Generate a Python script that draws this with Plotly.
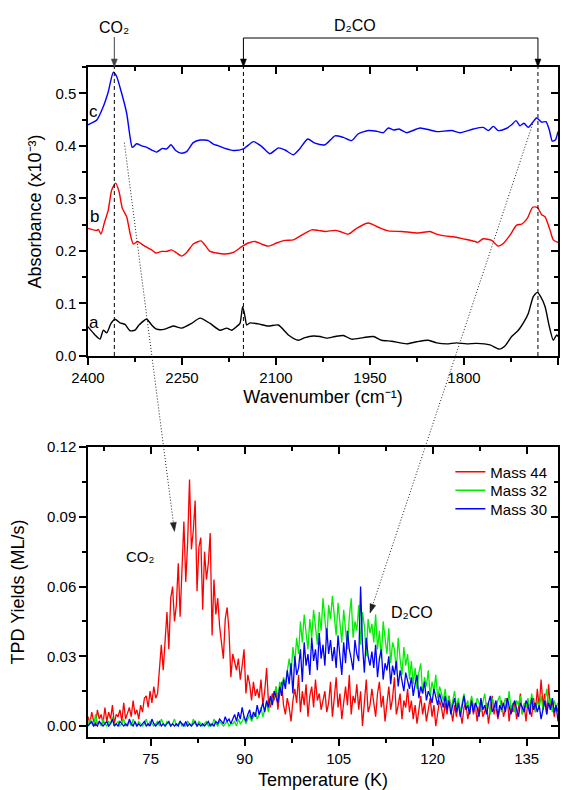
import plotly.graph_objects as go

# ---------------- IR spectra (top panel) ----------------
wn_c = [2400, 2386, 2375.5, 2367.6, 2359.6, 2354.3, 2346.3, 2338.3, 2333, 2329.3, 2322.4, 2314.4, 2306.4, 2298.4,
        2290.4, 2281.4, 2274.5, 2267.6, 2260.1, 2251.6, 2242.6, 2232, 2221.3, 2208, 2200, 2192, 2181.4, 2168, 2152,
        2136, 2123, 2110, 2096, 2085.6, 2072.4, 2061.7, 2049.5, 2037.8, 2021.8, 2005.9, 1992.6, 1979.3, 1968.6,
        1952.7, 1936.7, 1928.7, 1920.8, 1911.7, 1903.7, 1891.5, 1870.2, 1854.3, 1843.6, 1819.7, 1806.4, 1785.1,
        1769.2, 1761.2, 1753.2, 1745.3, 1734.6, 1724, 1717, 1710.7, 1704.3, 1697.4, 1684.1, 1676.1, 1669.2, 1663.8,
        1659.1, 1654.3, 1650]
abs_c = [0.440, 0.449, 0.475, 0.503, 0.540, 0.532, 0.500, 0.462, 0.418, 0.397, 0.404, 0.400, 0.397, 0.392,
         0.388, 0.395, 0.394, 0.402, 0.391, 0.386, 0.389, 0.406, 0.411, 0.410, 0.403, 0.400, 0.395, 0.391, 0.394,
         0.408, 0.399, 0.385, 0.396, 0.392, 0.383, 0.395, 0.413, 0.405, 0.402, 0.419, 0.416, 0.410, 0.423,
         0.429, 0.427, 0.425, 0.434, 0.430, 0.432, 0.425, 0.434, 0.430, 0.427, 0.429, 0.425, 0.432,
         0.435, 0.429, 0.437, 0.429, 0.432, 0.440, 0.448, 0.438, 0.443, 0.435, 0.453, 0.445, 0.446, 0.430,
         0.409, 0.411, 0.427]

wn_b = [2400, 2391.5, 2386, 2383.5, 2379.3, 2374, 2367.6, 2362.2, 2355.9, 2350.5, 2345.2, 2338.3, 2333, 2327.7,
        2320.8, 2314.4, 2306.4, 2298.4, 2292, 2282.5, 2274.5, 2266.5, 2258.5, 2250.5, 2242.6, 2232, 2219.7, 2213.3,
        2205.3, 2194.7, 2181.4, 2168, 2154.8, 2144.2, 2133.5, 2123, 2112.3, 2099, 2085.6, 2072.4, 2059.1, 2043,
        2032.5, 2021.8, 2005.9, 1997.9, 1984.6, 1971.3, 1952.7, 1936.7, 1920.8, 1899.5, 1872.9, 1854.3, 1843.6,
        1827.7, 1817.1, 1801.1, 1782.5, 1778.7, 1769.2, 1755.9, 1745.3, 1737.2, 1726.6, 1716, 1708, 1699, 1690.4,
        1683, 1676.1, 1670.7, 1662.8, 1657.5, 1650]
abs_b = [0.243, 0.240, 0.239, 0.241, 0.232, 0.253, 0.278, 0.316, 0.329, 0.313, 0.281, 0.265, 0.234, 0.213,
         0.218, 0.213, 0.207, 0.202, 0.196, 0.199, 0.199, 0.202, 0.196, 0.190, 0.197, 0.213, 0.219, 0.211,
         0.199, 0.196, 0.194, 0.197, 0.208, 0.215, 0.218, 0.213, 0.209, 0.215, 0.220, 0.221, 0.230, 0.240,
         0.239, 0.237, 0.239, 0.237, 0.232, 0.243, 0.253, 0.245, 0.238, 0.237, 0.234, 0.237, 0.232,
         0.228, 0.227, 0.223, 0.218, 0.216, 0.223, 0.220, 0.209, 0.214, 0.230, 0.249, 0.251, 0.262, 0.283,
         0.283, 0.269, 0.265, 0.240, 0.221, 0.216]

wn_a = [2400, 2396.8, 2388.8, 2380.9, 2375.5, 2370.2, 2363.3, 2357, 2349, 2341, 2333, 2325, 2318.6, 2306.4,
        2298.4, 2290.4, 2277.2, 2263.8, 2250.5, 2234.6, 2221.3, 2205.3, 2189.4, 2178.7, 2170.8, 2162.8, 2157.5,
        2153.2, 2149.5, 2146.8, 2141.5, 2128.2, 2112.3, 2096.3, 2080.3, 2064.4, 2053.7, 2040.4, 2029.8, 2019.2,
        2005.9, 1992.6, 1979.3, 1960.7, 1944.7, 1931.4, 1915.4, 1891.5, 1875.5, 1856.9, 1843.6, 1827.7, 1811.7,
        1795.8, 1779.8, 1758.5, 1743.6, 1734.6, 1724, 1713.3, 1704.3, 1697.4, 1689.4, 1683, 1677.7, 1670.7,
        1663.8, 1657.5, 1652.1, 1650]
abs_a = [0.056, 0.051, 0.040, 0.032, 0.049, 0.044, 0.062, 0.070, 0.063, 0.060, 0.048, 0.049, 0.059, 0.070,
         0.059, 0.051, 0.051, 0.057, 0.053, 0.062, 0.072, 0.062, 0.049, 0.053, 0.049, 0.056, 0.062,
         0.094, 0.075, 0.059, 0.063, 0.061, 0.057, 0.059, 0.040, 0.030, 0.035, 0.038, 0.037, 0.034,
         0.037, 0.039, 0.032, 0.035, 0.037, 0.030, 0.028, 0.023, 0.027, 0.030, 0.025, 0.023, 0.025,
         0.023, 0.024, 0.021, 0.013, 0.019, 0.037, 0.049, 0.065, 0.081, 0.113, 0.121, 0.113, 0.094,
         0.056, 0.030, 0.040, 0.037]

co2_band = 2358
d2co_bands = [2152, 1682]

# ---------------- TPD (bottom panel), yields in 10^-3 ML/s ----------------
temp_start, temp_step, temp_count = 65.0, 0.3, 251
temperature = [round(temp_start + temp_step * i, 2) for i in range(temp_count)]

mass44_milli = [
    4, 1, 6, 2, 0, 7, 3, 5, 1, 8, 2, 6, 3, 9, 1, 5, 4, 7, 2, 10, 3, 6, 8, 4, 11, 5, 7, 3, 9, 6, 12,
    13, 8, 15, 10, 17, 12, 14, 26, 35, 24, 38, 49, 33, 55, 60, 45, 52, 70, 47, 68, 88, 62, 79, 106, 76, 84, 97,
    58, 77, 81, 50, 75, 63, 70, 83, 39, 63, 48, 55, 43, 37, 29, 46, 51, 41, 21, 31, 27, 24, 29, 20, 26, 33, 14,
    22, 18, 11, 19, 13, 16, 12, 20, 9, 15, 25, 10, 8, 14, 11, 17, 7, 14, 19, 9, 5, 12, 8, 2, 11, 16, 10, 22, 6,
    15, 9, 18, 4, 13, 17, 8, 20, 11, 14, 7, 12,
    15, 6, 10, 19, 4, 12, 21, 8, 14, 3, 11, 17, 9, 22, 5, 13, 10, 18, 7, 15, 0, 12, 20, 6, 9, 16, 11, 4, 14, 19,
    8, 13, 2, 10, 17, 7, 12, 21, 5, 9, 14, 3, 11, 8, 16,
    6, 11, 3, 9, 1, 8, 13, 5, 10, 2, 7, 12, 4, 9, 0, 6, 11, 8, 3, 10, 5, 13, 7, 2, 9, 4, 11, 6, 1, 8,
    10, 3, 7, 12, 5, 9, 2, 8, 11, 4, 6, 10, 1, 7, 13, 5, 9, 3, 8, 11, 4, 7, 12, 2, 9, 6, 10, 3, 8, 14,
    5, 9, 2, 11, 7, 4, 12, 6, 16, 8, 20, 9, 14, 5, 18, 7, 11, 4, 9, 6]

mass32_milli = [
    0, 3, 1, 0, 5, 1, 2, 0, 3, 1, 0, 2, 1, 4, 0, 1, 2, 0, 1, 3, 0, 1, 2, 0, 3, 1, 0, 2, 1, 0,
    1, 3, 0, 2, 1, 0, 1, 2, 0, 3, 1, 0, 2, 1, 0, 1, 3, 0, 1, 2, 0, 1, 0, 2, 1, 0, 3, 1, 0, 2,
    1, 0, 1, 2, 0, 1, 0, 3, 1, 0, 2, 1, 0, 1, 2, 0, 1,
    1, 2, 0, 3, 1, 2, 4, 1, 3, 5, 2, 4, 6, 3, 5, 8, 4,
    7, 10, 6, 12, 9, 14, 17, 12, 19, 15, 21, 18, 24, 29, 22, 34, 27, 38, 31, 45, 36, 48,
    40, 33, 46, 38, 50, 43, 35, 49, 41, 55, 44, 37, 52, 46, 56,
    48, 39, 53, 44, 36, 50, 42, 33, 47, 55, 38, 45, 41, 52, 35, 49, 43, 30, 46, 40,
    44, 36, 48, 33, 41, 29, 45, 38, 31, 42, 27, 36, 33, 24, 38, 29, 22, 34, 26, 31,
    20, 28, 18, 25, 16, 23, 27, 14, 21, 17, 24, 13, 19, 15, 22, 12, 17, 14, 11, 16,
    9, 13, 7, 11, 15, 8, 12, 6, 10, 14, 8, 11, 5, 13, 9, 7, 12, 10, 6, 11,
    14, 8, 10, 5, 12, 9, 7, 11, 13, 6, 9, 12, 8, 15, 7, 10, 6, 11, 9, 13,
    5, 10, 8, 12, 7, 14, 9, 6, 11, 8, 13, 7, 10, 16, 9, 12, 6, 11, 8, 10]

mass30_milli = [
    0, 1, 2, 0, 1, 0, 2, 1, 0, 1, 2, 0, 1, 3, 0, 1, 0, 2, 1, 0, 1, 0, 3, 1, 0, 2, 0, 1, 0, 1,
    2, 0, 1, 0, 3, 1, 0, 1, 2, 0, 1, 0, 1, 2, 0, 1, 0, 1, 0, 2, 1, 0, 2, 0, 1, 0, 1, 2, 0, 1,
    0, 1, 0, 1, 2, 0, 1, 0, 2, 1, 3, 2, 1, 4, 2, 3, 1,
    3, 5, 2, 6, 3, 8, 4, 2, 5, 7, 3, 6, 4, 9, 5, 7, 10,
    6, 11, 8, 13, 9, 15, 12, 10, 17, 13, 20, 16, 24, 18, 27, 14, 30, 22, 25, 33, 19, 36,
    26, 31, 22, 38, 28, 33, 24, 40, 29, 35, 26, 42, 31, 37, 28,
    34, 25, 39, 30, 22, 36, 27, 41, 33, 29, 24, 37, 31, 28, 60, 35, 23, 38, 30, 26,
    32, 25, 35, 21, 29, 33, 20, 27, 24, 30, 18, 26, 22, 28, 17, 24, 20, 15, 23, 19,
    16, 21, 13, 18, 22, 12, 17, 14, 19, 11, 15, 13, 10, 16, 12, 9, 14, 11, 8, 13,
    7, 11, 5, 9, 12, 6, 10, 4, 8, 13, 7, 9, 5, 11, 6, 10, 8, 4, 12, 7,
    9, 5, 10, 13, 6, 8, 11, 4, 9, 7, 10, 6, 12, 8, 5, 9, 11, 7, 4, 10,
    8, 6, 11, 9, 5, 12, 7, 10, 6, 9, 3, 8, 11, 5, 10, 7, 12, 6, 9, 2]

series_names = ["Mass 44", "Mass 32", "Mass 30"]

# ---------------- layout geometry ----------------
FONT = "Liberation Sans, Arial, sans-serif"
W, H = 573, 790
M_L, M_R, M_T, M_B = 88, 15, 67, 53
PW, PH = W - M_L - M_R, H - M_T - M_B
top_dom = [0.5687, 1.0]
bot_dom = [0.0, 0.4328]
wn_range = [2400, 1650]
abs_range = [0.0, 0.55]
t_range = [65, 140]
y_range = [-0.0047, 0.12]


def top_paper(wn, a):
    px = (wn_range[0] - wn) / (wn_range[0] - wn_range[1])
    py = top_dom[0] + (a - abs_range[0]) / (abs_range[1] - abs_range[0]) * (top_dom[1] - top_dom[0])
    return px, py


def bot_paper(t, y):
    px = (t - t_range[0]) / (t_range[1] - t_range[0])
    py = bot_dom[0] + (y - y_range[0]) / (y_range[1] - y_range[0]) * (bot_dom[1] - bot_dom[0])
    return px, py


def arrow_shapes(x0, y0, x1, y1, color="black", dash=None, head_len=8, head_w=3):
    """Line from (x0,y0) to tip (x1,y1) in paper coords plus a filled triangular head at the tip."""
    dxp = (x1 - x0) * PW
    dyp = (y1 - y0) * PH
    L = (dxp ** 2 + dyp ** 2) ** 0.5
    ux, uy = dxp / L, dyp / L
    bx, by = x1 - ux * head_len / PW, y1 - uy * head_len / PH
    lx, ly = bx - uy * head_w / PW, by + ux * head_w / PH
    rx, ry = bx + uy * head_w / PW, by - ux * head_w / PH
    line = dict(color=color, width=1)
    if dash:
        line["dash"] = dash
    out = [dict(type="line", xref="paper", yref="paper", x0=x0, y0=y0, x1=bx, y1=by, line=line),
           dict(type="path", xref="paper", yref="paper",
                path=f"M {x1} {y1} L {lx} {ly} L {rx} {ry} Z",
                fillcolor=color, line=dict(color=color, width=0.5))]
    return out


fig = go.Figure()
spl = dict(shape="spline", smoothing=0.6, width=1.4)
fig.add_trace(go.Scatter(x=wn_a, y=abs_a, mode="lines", line=dict(color="black", **spl), showlegend=False,
                         xaxis="x", yaxis="y"))
fig.add_trace(go.Scatter(x=wn_b, y=abs_b, mode="lines", line=dict(color="#ff0000", **spl), showlegend=False,
                         xaxis="x", yaxis="y"))
fig.add_trace(go.Scatter(x=wn_c, y=abs_c, mode="lines", line=dict(color="#0000ff", **spl), showlegend=False,
                         xaxis="x", yaxis="y"))

legend_ids = ["legend", "legend2", "legend3"]
for name, vals, col, lg in zip(series_names, [mass44_milli, mass32_milli, mass30_milli],
                               ["#ff0000", "#00ee00", "#0000ff"], legend_ids):
    fig.add_trace(go.Scatter(x=temperature, y=[v / 1000 for v in vals], mode="lines", name=name, legend=lg,
                             line=dict(color=col, width=1.3), xaxis="x2", yaxis="y2"))

axis_common = dict(showline=True, linecolor="black", linewidth=1.5, ticks="outside", ticklen=7,
                   tickwidth=1.5, tickcolor="black", showgrid=False, zeroline=False, automargin=False,
                   tickfont=dict(family=FONT, size=15, color="black"))
mirror_common = dict(showline=True, linecolor="black", linewidth=1.5, ticks="inside", ticklen=7,
                     tickwidth=1.5, tickcolor="black", showgrid=False, zeroline=False, showticklabels=False,
                     automargin=False)
minor_out = dict(ticks="outside", ticklen=4, tickwidth=1.5, tickcolor="black")
minor_in = dict(ticks="inside", ticklen=4, tickwidth=1.5, tickcolor="black")
TITLE = dict(family=FONT, size=18, color="black")

leg_common = dict(xanchor="left", yanchor="middle", bgcolor="rgba(0,0,0,0)",
                  font=dict(family=FONT, size=15, color="black"), itemwidth=30)
leg_x = 0.771
leg_item_px = [472, 490.5, 509]

layout = dict(
    width=W, height=H, margin=dict(l=M_L, r=M_R, t=M_T, b=M_B),
    paper_bgcolor="white", plot_bgcolor="white",
    font=dict(family=FONT, color="black"),
    xaxis=dict(domain=[0, 1], anchor="y", range=wn_range, tick0=2400, dtick=150,
               minor=dict(dtick=75, **minor_out),
               title=dict(text="Wavenumber (cm⁻¹)", font=TITLE, standoff=6), **axis_common),
    yaxis=dict(domain=top_dom, anchor="x", range=abs_range, tick0=0, dtick=0.1, tickformat=".1f",
               minor=dict(dtick=0.05, **minor_out),
               title=dict(text="Absorbance (x10⁻³)", font=TITLE, standoff=9), **axis_common),
    xaxis2=dict(domain=[0, 1], anchor="y2", range=t_range, tick0=75, dtick=15,
                minor=dict(dtick=7.5, tick0=75, **minor_out),
                title=dict(text="Temperature (K)", font=TITLE, standoff=8), **axis_common),
    yaxis2=dict(domain=bot_dom, anchor="x2", range=y_range, tick0=0, dtick=0.03, tickformat=".2f",
                minor=dict(dtick=0.015, tick0=0, **minor_out),
                title=dict(text="TPD Yields (ML/s)", font=TITLE, standoff=18), **axis_common),
    xaxis3=dict(overlaying="x", side="top", anchor="y", range=wn_range, tick0=2400, dtick=150,
                minor=dict(dtick=75, **minor_in), **mirror_common),
    yaxis3=dict(overlaying="y", side="right", anchor="x", range=abs_range, tick0=0, dtick=0.1,
                minor=dict(dtick=0.05, **minor_in), **mirror_common),
    xaxis4=dict(overlaying="x2", side="top", anchor="y2", range=t_range, tick0=75, dtick=15,
                minor=dict(dtick=7.5, tick0=75, **minor_in), **mirror_common),
    yaxis4=dict(overlaying="y2", side="right", anchor="x2", range=y_range, tick0=0, dtick=0.03,
                minor=dict(dtick=0.015, tick0=0, **minor_in), **mirror_common),
)
for lg, ypx in zip(legend_ids, leg_item_px):
    layout[lg] = dict(x=leg_x, y=(H - M_B - ypx) / PH, **leg_common)
fig.update_layout(**layout)

# invisible traces so the mirror axes are drawn
fig.add_trace(go.Scatter(x=[wn_range[0]], y=[abs_range[0]], mode="markers", marker=dict(opacity=0),
                         showlegend=False, hoverinfo="skip", xaxis="x3", yaxis="y3"))
fig.add_trace(go.Scatter(x=[t_range[0]], y=[y_range[0]], mode="markers", marker=dict(opacity=0),
                         showlegend=False, hoverinfo="skip", xaxis="x4", yaxis="y4"))

shapes = []
# dashed band markers in the IR panel
for wn in [co2_band] + d2co_bands:
    shapes.append(dict(type="line", xref="x", yref="y domain", x0=wn, x1=wn, y0=0, y1=1,
                       line=dict(color="black", width=1, dash="4px,3px")))

# arrows above the IR panel
arrow_top = 1.0 + 30 / PH
bracket_y = 1.0 + 29 / PH
cx, _ = top_paper(co2_band, 0)
shapes += arrow_shapes(cx, arrow_top, cx, 1.0, color="#444444", head_len=8, head_w=3)
d0, _ = top_paper(d2co_bands[0], 0)
d1, _ = top_paper(d2co_bands[1], 0)
shapes.append(dict(type="line", xref="paper", yref="paper", x0=d0, x1=d1, y0=bracket_y, y1=bracket_y,
                   line=dict(color="black", width=1)))
for dx in (d0, d1):
    shapes += arrow_shapes(dx, bracket_y, dx, 1.0, head_len=8, head_w=3)

# dotted connectors between panels
conn = [((2342, 0.406), (78.8, 0.0837)), ((1689, 0.447), (110.0, 0.0486))]
for (wn, a), (t, y) in conn:
    x0, y0 = top_paper(wn, a)
    x1, y1 = bot_paper(t, y)
    shapes += arrow_shapes(x0, y0, x1, y1, color="#222222", dash="1px,2px", head_len=9, head_w=3)
fig.update_layout(shapes=shapes)

ann = []
ann.append(dict(x=co2_band, xref="x", y=(H - M_B - 38) / PH, yref="paper", yanchor="bottom",
                text="CO₂", showarrow=False, font=dict(size=16, family=FONT, color="black")))
ann.append(dict(x=1974, xref="x", y=(H - M_B - 36) / PH, yref="paper", yanchor="bottom",
                text="D₂CO", showarrow=False, font=dict(size=16, family=FONT, color="black")))
# curve labels
for lbl, wn, a in [("c", 2392, 0.465), ("b", 2390, 0.265), ("a", 2390, 0.063)]:
    ann.append(dict(x=wn, y=a, xref="x", yref="y", text=lbl, showarrow=False,
                    font=dict(size=17, family=FONT, color="black")))
# bottom-panel labels
ann.append(dict(x=73.3, y=0.073, xref="x2", yref="y2", text="CO₂", showarrow=False,
                font=dict(size=15, family=FONT, color="black")))
ann.append(dict(x=116.7, y=0.049, xref="x2", yref="y2", text="D₂CO", showarrow=False,
                font=dict(size=16, family=FONT, color="black")))
fig.update_layout(annotations=ann)

fig.write_html("out.html")
